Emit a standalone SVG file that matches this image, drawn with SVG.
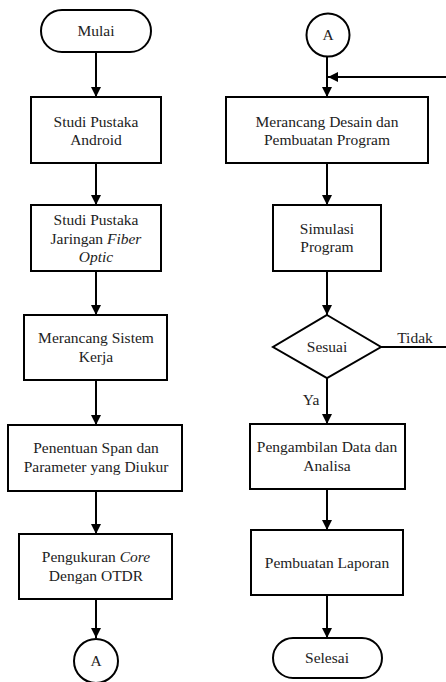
<svg xmlns="http://www.w3.org/2000/svg" width="446" height="682" viewBox="0 0 446 682">
<style>
.s{fill:#fff;stroke:#000;stroke-width:2}
.t{font-family:'Liberation Serif','Times New Roman',serif;font-size:15.5px;fill:#222;text-anchor:middle}
.c{fill:none;stroke:#000;stroke-width:2}
</style>
<defs>
<marker id="ah" markerUnits="userSpaceOnUse" markerWidth="11" markerHeight="10" refX="10" refY="5" orient="auto">
<path d="M0,0 L10,5 L0,10 z" fill="#000"/>
</marker>
</defs>
<rect width="446" height="682" fill="#fff"/>
<g id="connectors">
<line class="c" x1="96" y1="52" x2="96" y2="97" marker-end="url(#ah)"/>
<line class="c" x1="96" y1="163" x2="96" y2="205" marker-end="url(#ah)"/>
<line class="c" x1="96" y1="271" x2="96" y2="315" marker-end="url(#ah)"/>
<line class="c" x1="96" y1="380" x2="96" y2="425" marker-end="url(#ah)"/>
<line class="c" x1="96" y1="491" x2="96" y2="534" marker-end="url(#ah)"/>
<line class="c" x1="96" y1="599" x2="96" y2="638" marker-end="url(#ah)"/>
<line class="c" x1="327" y1="57" x2="327" y2="97" marker-end="url(#ah)"/>
<line class="c" x1="327" y1="163" x2="327" y2="205" marker-end="url(#ah)"/>
<line class="c" x1="327" y1="271" x2="327" y2="315" marker-end="url(#ah)"/>
<line class="c" x1="327" y1="378" x2="327" y2="424" marker-end="url(#ah)"/>
<line class="c" x1="327" y1="489" x2="327" y2="530" marker-end="url(#ah)"/>
<line class="c" x1="327" y1="595" x2="327" y2="638" marker-end="url(#ah)"/>
<path class="c" d="M381,347 H448 V77 H328" marker-end="url(#ah)"/>
<text class="t" x="415" y="343">Tidak</text>
<text class="t" x="311" y="405">Ya</text>
</g>
<g id="mulai"><rect class="s" x="41" y="10" width="110" height="42" rx="21"/><text class="t" x="96" y="36">Mulai</text></g>
<g id="studi-android"><rect class="s" x="31" y="97" width="130" height="66"/><text class="t" x="96" y="127">Studi Pustaka</text><text class="t" x="96" y="145">Android</text></g>
<g id="studi-fiber"><rect class="s" x="31" y="205" width="130" height="66"/><text class="t" x="96" y="225">Studi Pustaka</text><text class="t" x="96" y="244">Jaringan <tspan font-style="italic">Fiber</tspan></text><text class="t" x="96" y="262" font-style="italic">Optic</text></g>
<g id="sistem"><rect class="s" x="24" y="315" width="143" height="65"/><text class="t" x="96" y="343">Merancang Sistem</text><text class="t" x="96" y="362">Kerja</text></g>
<g id="span"><rect class="s" x="8" y="425" width="174" height="66"/><text class="t" x="96" y="453">Penentuan Span dan</text><text class="t" x="96" y="472">Parameter yang Diukur</text></g>
<g id="core"><rect class="s" x="19" y="534" width="153" height="65"/><text class="t" x="96" y="562">Pengukuran <tspan font-style="italic">Core</tspan></text><text class="t" x="96" y="581">Dengan OTDR</text></g>
<g id="a-left"><circle class="s" cx="96" cy="661" r="22"/><text class="t" x="96" y="666">A</text></g>
<g id="a-right"><circle class="s" cx="328" cy="35" r="21.5"/><text class="t" x="328" y="40">A</text></g>
<g id="desain"><rect class="s" x="226" y="97" width="202" height="66"/><text class="t" x="327" y="127">Merancang Desain dan</text><text class="t" x="327" y="145">Pembuatan Program</text></g>
<g id="simulasi"><rect class="s" x="273" y="205" width="108" height="66"/><text class="t" x="327" y="234">Simulasi</text><text class="t" x="327" y="252">Program</text></g>
<g id="sesuai"><polygon class="s" points="327,315 381,347 327,378 273,347"/><text class="t" x="327" y="352">Sesuai</text></g>
<g id="pengambilan"><rect class="s" x="250" y="424" width="155" height="65"/><text class="t" x="327" y="452">Pengambilan Data dan</text><text class="t" x="327" y="471">Analisa</text></g>
<g id="laporan"><rect class="s" x="251" y="530" width="152" height="65"/><text class="t" x="327" y="568">Pembuatan Laporan</text></g>
<g id="selesai"><rect class="s" x="273" y="638" width="109" height="40" rx="20"/><text class="t" x="327" y="663">Selesai</text></g>
</svg>
